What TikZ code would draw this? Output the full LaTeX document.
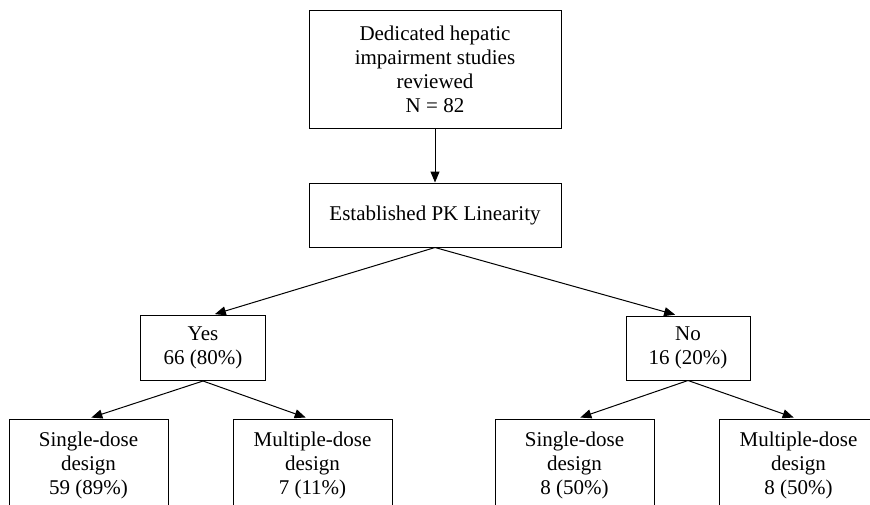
\documentclass[tikz,border=0pt]{standalone}
\usepackage{fontspec}
\setmainfont{Liberation Serif}
\usetikzlibrary{arrows.meta,calc}

\begin{document}
\begin{tikzpicture}[x=1pt,y=-1pt,
    box/.style={draw, line width=1pt, align=center, inner sep=0pt,
        font=\fontsize{21}{24}\selectfont},
    arr/.style={-{Triangle[length=11pt,width=9pt]}, line width=1pt, shorten >=3pt}]
    \useasboundingbox (0,0) rectangle (870,504);

    \node[box, minimum width=252, minimum height=118] (reviewed) at (435,69)
        {Dedicated hepatic\\impairment studies\\reviewed\\N = 82};
    \node[box, minimum width=252, minimum height=64] (linearity) at (435,215)
        {Established PK Linearity};

    \node[box, minimum width=125, minimum height=65] (yes) at (203,348) {Yes\\66 (80\%)};
    \node[box, minimum width=124, minimum height=64] (no) at (688,348) {No\\16 (20\%)};

    \node[box, minimum width=159, minimum height=92] (yessingle) at (88.5,465)
        {Single-dose\\design\\59 (89\%)};
    \node[box, minimum width=159, minimum height=92] (yesmulti) at (312.5,465)
        {Multiple-dose\\design\\7 (11\%)};
    \node[box, minimum width=159, minimum height=92] (nosingle) at (574.5,465)
        {Single-dose\\design\\8 (50\%)};
    \node[box, minimum width=159, minimum height=92] (nomulti) at (798.5,465)
        {Multiple-dose\\design\\8 (50\%)};

    \draw[arr, shorten >=0pt] (reviewed.south) -- (linearity.north);
    \draw[arr] (linearity.south) -- ($(yes.north)+(9,0)$);
    \draw[arr] (linearity.south) -- ($(no.north)+(-10,0)$);

    \draw[arr] (yes.south) -- (yessingle.north);
    \draw[arr] (yes.south) -- ($(yesmulti.north)+(-4,0)$);
    \draw[arr] (no.south) -- ($(nosingle.north)+(3,0)$);
    \draw[arr] (no.south) -- ($(nomulti.north)+(-2,0)$);
\end{tikzpicture}
\end{document}
